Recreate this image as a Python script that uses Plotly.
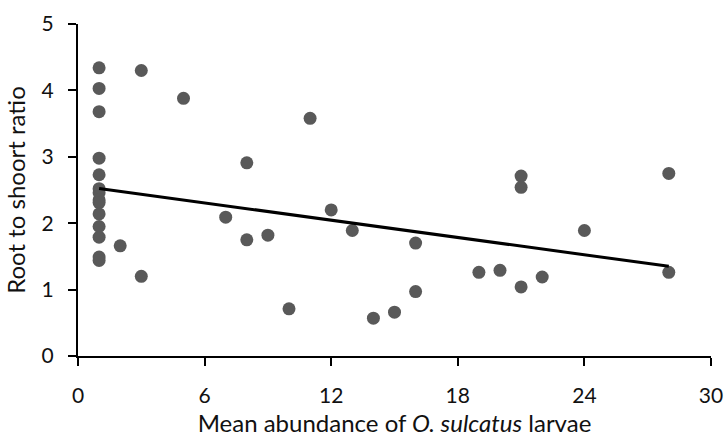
import numpy as np
import plotly.graph_objects as go

abundance = [1, 1, 1, 1, 1, 1, 1, 1, 1, 1, 1, 1, 1, 1,
             2, 3, 3, 5, 7, 8, 8, 9, 10, 11, 12, 13, 14, 15, 16, 16,
             19, 20, 21, 21, 21, 22, 24, 28, 28]
ratio = [4.34, 4.03, 3.68, 2.98, 2.73, 2.52, 2.46, 2.35, 2.31, 2.14, 1.95, 1.79, 1.49, 1.44,
         1.66, 4.30, 1.20, 3.88, 2.09, 2.91, 1.75, 1.82, 0.71, 3.58, 2.20, 1.89, 0.57, 0.66, 1.70, 0.97,
         1.26, 1.29, 2.71, 2.54, 1.04, 1.19, 1.89, 2.75, 1.26]
x_ticks = [0, 6, 12, 18, 24, 30]
y_ticks = [0, 1, 2, 3, 4, 5]

slope, intercept = np.polyfit(abundance, ratio, 1)
trend_x = [min(abundance), max(abundance)]
trend_y = [intercept + slope * v for v in trend_x]

font = "Lato, 'Open Sans', sans-serif"
fig = go.Figure()
fig.add_trace(go.Scatter(x=abundance, y=ratio, mode="markers",
                         marker=dict(color="#595959", size=13, line=dict(width=0)),
                         showlegend=False, cliponaxis=False))
fig.add_trace(go.Scatter(x=trend_x, y=trend_y, mode="lines",
                         line=dict(color="black", width=3), showlegend=False))

fig.update_layout(
    width=725, height=437,
    margin=dict(l=78, r=14, t=24, b=81),
    plot_bgcolor="white", paper_bgcolor="white",
    font=dict(family=font, size=21, color="#111111"),
    xaxis=dict(range=[0, 30], tickvals=x_ticks, showgrid=False, zeroline=False,
               showline=True, linecolor="black", linewidth=2, automargin=False,
               ticks="outside", ticklen=8, tickwidth=2, tickcolor="black",
               ticklabelstandoff=12,
               title=dict(text="Mean abundance of <i>O. sulcatus</i> larvae", font=dict(size=24), standoff=11)),
    yaxis=dict(range=[0, 5], tickvals=y_ticks, showgrid=False, zeroline=False,
               showline=True, linecolor="black", linewidth=2, automargin=False,
               ticks="outside", ticklen=8, tickwidth=2, tickcolor="black",
               ticklabelstandoff=10,
               title=dict(text="Root to shoort ratio", font=dict(size=24), standoff=9)),
)
fig.write_html("out.html")
